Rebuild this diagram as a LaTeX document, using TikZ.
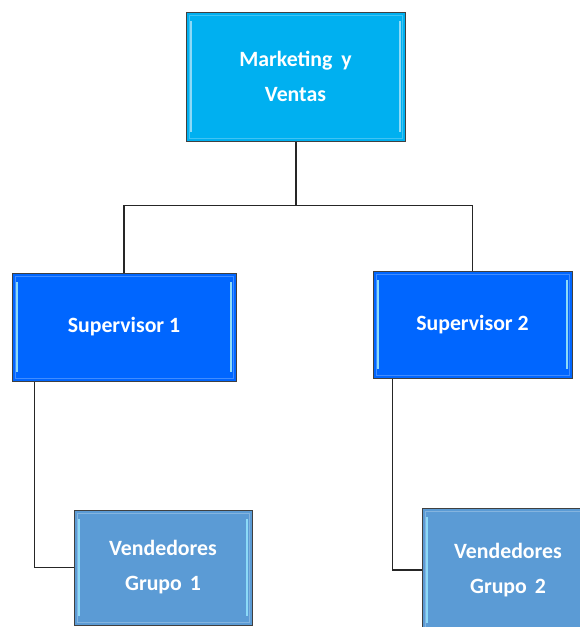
\documentclass[tikz,border=0pt]{standalone}
\usepackage{fontspec}
\setmainfont{Carlito}
\definecolor{mkblue}{HTML}{00B0F0}
\definecolor{supblue}{HTML}{0066FF}
\definecolor{venblue}{HTML}{5B9BD5}
\definecolor{edge}{HTML}{404040}
\tikzset{
  orgbox/.style={draw=edge, line width=1pt, align=center, text=white,
    font=\fontsize{21.8}{35}\selectfont\bfseries, inner sep=0pt,
    path picture={
      \draw[white, opacity=0.25, line width=1pt]
        ([xshift=3pt,yshift=-3pt]path picture bounding box.north west) rectangle
        ([xshift=-3pt,yshift=3pt]path picture bounding box.south east);
      \draw[white!55!cyan, line width=2pt]
        ([xshift=5pt,yshift=-9pt]path picture bounding box.north west) --
        ([xshift=5pt,yshift=9pt]path picture bounding box.south west);
      \draw[white!55!cyan, line width=2pt]
        ([xshift=-5pt,yshift=-9pt]path picture bounding box.north east) --
        ([xshift=-5pt,yshift=9pt]path picture bounding box.south east);
    }},
  conn/.style={draw=black!85, line width=1.3pt}
}
\begin{document}
\begin{tikzpicture}[x=1pt,y=-1pt]
\useasboundingbox (0,0) rectangle (580,627);
\clip (0,0) rectangle (580,627);
\node[orgbox, fill=mkblue, minimum width=219pt, minimum height=129pt] (mk) at (295.5,76.5) {Marketing\hspace{4pt} y\\Ventas};
\node[orgbox, fill=supblue, minimum width=224pt, minimum height=108pt] (s1) at (124,327) {Supervisor 1};
\node[orgbox, fill=supblue, minimum width=199pt, minimum height=107pt] (s2) at (472.5,324.5) {Supervisor 2};
\node[orgbox, fill=venblue, minimum width=178pt, minimum height=115pt] (v1) at (163,567.5) {Vendedores\\Grupo\hspace{3pt} 1};
\node[orgbox, fill=venblue, minimum width=172pt, minimum height=124pt] (v2) at (508,570) {Vendedores\\Grupo\hspace{3pt} 2};
\draw[conn, line width=2pt] (mk.south) -- ++(0,64) coordinate (j);
\draw[conn] (j) -| (s1.north);
\draw[conn] (j) -| (s2.north);
\draw[conn] ([xshift=23pt]s1.south west) |- (v1.west);
\draw[conn] ([xshift=20pt]s2.south west) |- (v2.west);
\end{tikzpicture}
\end{document}
